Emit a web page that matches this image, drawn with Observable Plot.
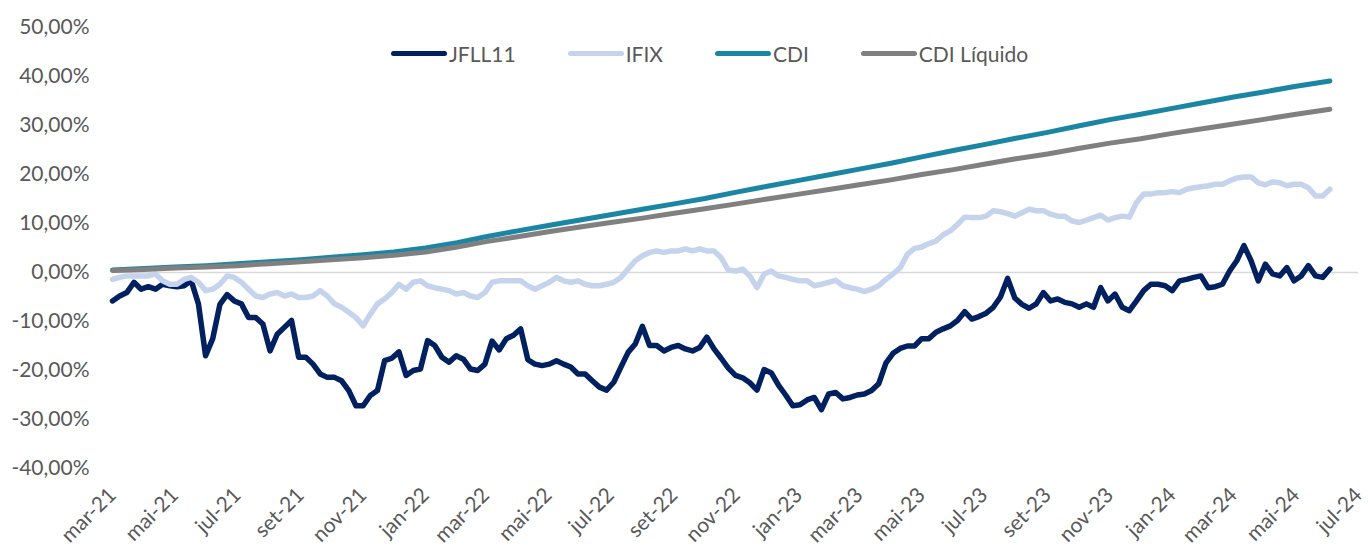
<!DOCTYPE html>
<html><head><meta charset="utf-8">
<script src="https://cdn.jsdelivr.net/npm/d3@7"></script>
<script src="https://cdn.jsdelivr.net/npm/@observablehq/plot@0.6"></script>
<style>
html,body{margin:0;padding:0;background:#fff;}
#wrap{position:relative;width:1368px;height:549px;font-family:Lato,sans-serif;}
#legend{position:absolute;left:391px;top:41px;height:24px;display:flex;align-items:center;font-size:21px;color:#595959;gap:52px;}
.item{display:flex;align-items:center;}
.sw{width:56px;height:5px;border-radius:3px;margin-right:2px;}
</style></head><body><div id="wrap"><div id="legend"></div></div>
<script>
const seriesNames = ["JFLL11", "IFIX", "CDI", "CDI Líquido"];
const seriesColors = ["#002060", "#C5D4EC", "#1A86A4", "#808080"];

// weekly observations starting on this date
const startDate = "2021-03-01";

const jfll11 = [
 -5.8,-4.8,-4.1,-2.0,-3.4,-2.9,-3.4,-2.4,-2.7,-2.9,-2.7,-1.7,-6.4,-17.0,-13.5,-6.5,-4.5,-5.8,-6.4,-9.2,
 -9.2,-10.5,-16.0,-12.6,-11.2,-9.8,-17.3,-17.3,-18.7,-20.7,-21.4,-21.4,-22.1,-24.1,-27.2,-27.2,-25.1,-24.1,-18.0,-17.5,
 -16.2,-21.0,-20.0,
 -19.7,-13.9,-14.9,-17.3,-18.3,-17.0,-17.7,-19.7,-20.0,-18.7,-14.0,-15.8,-13.5,-12.8,-11.5,-17.8,-18.7,-19.0,-18.7,-18.0,
 -18.7,-19.3,-20.7,-20.7,-22.1,-23.4,-24.0,-22.4,-19.3,-16.3,-14.6,-11.0,-14.9,-14.9,-16.0,-15.3,-14.9,-15.6,-16.0,-15.3,
 -13.2,-15.6,-17.5,
 -19.5,-21.0,-21.5,-22.5,-24.0,-19.8,-20.5,-23.0,-25.0,-27.2,-27.0,-26.0,-25.5,-28.0,-24.8,-24.5,-25.8,-25.5,-25.0,-24.8,
 -24.1,-22.7,-18.5,-16.5,-15.5,-15.0,-15.0,-13.5,-13.5,-12.2,-11.5,-10.9,-9.8,-8.0,-9.5,-9.0,-8.3,-7.1,-5.0,-1.2,
 -5.2,-6.5,-7.3,
 -6.4,-4.1,-5.8,-5.4,-6.1,-6.4,-7.1,-6.4,-7.1,-3.1,-5.8,-4.4,-7.1,-7.8,-5.8,-3.7,-2.4,-2.4,-2.7,-3.7,
 -1.7,-1.4,-1.0,-0.7,-3.1,-2.9,-2.4,0.3,2.4,5.5,2.4,-1.7,1.7,-0.3,-0.7,1.0,-1.7,-0.7,1.4,-0.7,
 -1.0,0.7
];

const ifix = [
 -1.4,-1.0,-0.7,-0.7,-0.7,-0.7,-0.3,-1.7,-2.4,-2.4,-1.4,-1.0,-2.0,-3.7,-3.4,-2.4,-0.7,-1.0,-2.0,-3.4,
 -4.8,-5.1,-4.4,-4.1,-4.8,-4.4,-5.1,-5.1,-4.8,-3.7,-4.8,-6.4,-7.1,-8.1,-9.2,-10.9,-8.5,-6.4,-5.4,-4.1,
 -2.4,-3.4,-2.0,
 -1.7,-2.7,-3.1,-3.4,-3.7,-4.4,-4.1,-4.8,-5.1,-4.1,-2.0,-1.7,-1.7,-1.7,-1.7,-2.7,-3.4,-2.7,-2.0,-1.0,
 -1.7,-2.0,-1.7,-2.4,-2.7,-2.7,-2.4,-2.0,-1.0,0.7,2.4,3.4,4.1,4.4,4.1,4.4,4.4,4.8,4.4,4.8,
 4.4,4.4,3.0,
 0.5,0.3,0.7,-0.7,-3.1,-0.3,0.3,-0.7,-1.0,-1.4,-1.7,-1.7,-2.7,-2.4,-2.0,-1.6,-2.7,-3.1,-3.4,-3.9,
 -3.4,-2.7,-1.4,-0.3,1.0,3.7,4.9,5.2,5.9,6.4,7.7,8.5,9.8,11.3,11.2,11.2,11.5,12.6,12.4,12.0,
 11.5,12.2,12.9,
 12.6,12.6,11.9,11.5,11.5,10.5,10.2,10.7,11.2,11.7,10.7,11.2,11.5,11.3,14.3,16.0,16.0,16.3,16.3,16.5,
 16.3,17.0,17.3,17.5,17.7,18.0,18.0,18.7,19.3,19.5,19.5,18.3,17.9,18.5,18.3,17.7,18.0,18.0,17.3,15.6,
 15.6,17.0
];

const cdiMonths = [
 "2021-03","2021-04","2021-05","2021-06","2021-07","2021-08","2021-09","2021-10","2021-11","2021-12",
 "2022-01","2022-02","2022-03","2022-04","2022-05","2022-06","2022-07","2022-08","2022-09","2022-10",
 "2022-11","2022-12","2023-01","2023-02","2023-03","2023-04","2023-05","2023-06","2023-07","2023-08",
 "2023-09","2023-10","2023-11","2023-12","2024-01","2024-02","2024-03","2024-04","2024-05","2024-06-03"
];
const cdi = [
 0.5,0.8,1.1,1.4,1.8,2.2,2.6,3.1,3.6,4.2,
 5.0,6.1,7.3,8.5,9.6,10.7,11.8,12.9,14.0,15.1,
 16.4,17.6,18.8,20.0,21.1,22.3,23.6,24.9,26.1,27.4,
 28.6,29.9,31.2,32.3,33.5,34.7,35.8,36.9,38.0,39.1
];
const cdiLiquido = [
 0.4,0.6,0.9,1.1,1.4,1.8,2.2,2.6,3.0,3.5,
 4.2,5.2,6.3,7.3,8.3,9.3,10.2,11.1,12.1,13.0,
 14.0,15.0,16.0,17.0,17.9,18.9,20.0,21.0,22.1,23.2,
 24.2,25.3,26.4,27.3,28.4,29.4,30.3,31.3,32.3,33.3
];

const yTicks = [-40, -30, -20, -10, 0, 10, 20, 30, 40, 50];
const xTickLabels = ["mar-21","mai-21","jul-21","set-21","nov-21","jan-22","mar-22","mai-22","jul-22","set-22",
 "nov-22","jan-23","mar-23","mai-23","jul-23","set-23","nov-23","jan-24","mar-24","mai-24","jul-24"];
const monthAbbr = ["jan","fev","mar","abr","mai","jun","jul","ago","set","out","nov","dez"];

// ---- build tables ----
const start = new Date(startDate);
const weekly = (vals, name) => vals.map((v, i) => ({date: d3.utcDay.offset(start, 7 * i), v, name}));
const monthly = (vals, name) => vals.map((v, i) => ({date: new Date(cdiMonths[i].length === 7 ? cdiMonths[i] + "-01" : cdiMonths[i]), v, name}));
const rows = [
  weekly(jfll11, seriesNames[0]),
  weekly(ifix, seriesNames[1]),
  monthly(cdi, seriesNames[2]),
  monthly(cdiLiquido, seriesNames[3])
];
const labelToDate = s => {
  const [m, y] = s.split("-");
  return new Date(Date.UTC(2000 + +y, monthAbbr.indexOf(m), 1));
};
const xTicks = xTickLabels.map(labelToDate);
const fmtX = d => `${monthAbbr[d.getUTCMonth()]}-${String(d.getUTCFullYear()).slice(2)}`;
const fmtY = d => d.toFixed(2).replace(".", ",") + "%";

const chart = Plot.plot({
  width: 1368,
  height: 549,
  marginTop: 27,
  marginBottom: 81,
  marginLeft: 112,
  marginRight: 10,
  x: {type: "utc", domain: [xTicks[0], xTicks[xTicks.length - 1]], label: null},
  y: {domain: [-40, 50], label: null},
  style: {fontFamily: "Lato, sans-serif", fontSize: "21px", color: "#595959", background: "#fff"},
  marks: [
    Plot.ruleY([0], {stroke: "#D9D9D9", strokeWidth: 1.5}),
    Plot.axisY({ticks: yTicks, tickFormat: fmtY, tickSize: 0, tickPadding: 23, fontSize: 21}),
    Plot.axisX({ticks: xTicks, tickFormat: fmtX, tickRotate: -45, tickSize: 0, tickPadding: 23, fontSize: 21}),
    ...rows.map((r, k) => Plot.lineY(r, {
      x: "date", y: "v",
      stroke: seriesColors[k],
      strokeWidth: k < 2 ? 5.5 : 5,
      strokeLinejoin: "round",
      strokeLinecap: "round"
    }))
  ]
});
document.getElementById("wrap").appendChild(chart);

const legend = document.getElementById("legend");
seriesNames.forEach((n, k) => {
  const it = document.createElement("div");
  it.className = "item";
  const sw = document.createElement("span");
  sw.className = "sw";
  sw.style.background = seriesColors[k];
  const tx = document.createElement("span");
  tx.textContent = n;
  it.appendChild(sw); it.appendChild(tx);
  legend.appendChild(it);
});
</script>
</body></html>
